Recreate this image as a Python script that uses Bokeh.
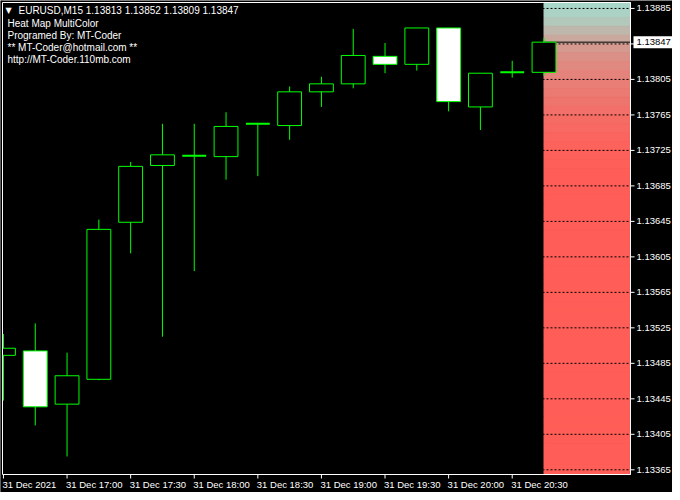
import math
from bokeh.plotting import figure
from bokeh.models import Range1d, Label, ColumnDataSource
from bokeh.core.properties import value
from bokeh.embed import file_html
from bokeh.resources import INLINE

# ---------------- data ----------------
header = "EURUSD,M15  1.13813 1.13852 1.13809 1.13847"
info_lines = ["Heat Map MultiColor", "Programed By: MT-Coder",
              "** MT-Coder@hotmail.com **", "http://MT-Coder.110mb.com"]

opens  = [1.13494, 1.13499, 1.13439, 1.13467, 1.13644, 1.13708, 1.13719, 1.13718, 1.13755,
          1.13753, 1.13791, 1.13800, 1.13831, 1.13822, 1.13863, 1.13774, 1.13813, 1.13813]
highs  = [1.13518, 1.13530, 1.13497, 1.13647, 1.13712, 1.13755, 1.13755, 1.13768, 1.13756,
          1.13797, 1.13808, 1.13862, 1.13846, 1.13863, 1.13863, 1.13812, 1.13826, 1.13852]
lows   = [1.13443, 1.13415, 1.13380, 1.13466, 1.13609, 1.13515, 1.13589, 1.13692, 1.13696,
          1.13737, 1.13774, 1.13795, 1.13812, 1.13815, 1.13769, 1.13748, 1.13807, 1.13809]
closes = [1.13502, 1.13436, 1.13471, 1.13636, 1.13707, 1.13720, 1.13719, 1.13752, 1.13755,
          1.13791, 1.13800, 1.13832, 1.13822, 1.13863, 1.13780, 1.13812, 1.13813, 1.13847]

time_tick_idx = [0, 2, 4, 6, 8, 10, 12, 14, 16]
time_tick_labels = ["31 Dec 2021", "31 Dec 17:00", "31 Dec 17:30", "31 Dec 18:00",
                    "31 Dec 18:30", "31 Dec 19:00", "31 Dec 19:30", "31 Dec 20:00",
                    "31 Dec 20:30"]

price_ticks = [1.13365, 1.13405, 1.13445, 1.13485, 1.13525, 1.13565, 1.13605, 1.13645,
               1.13685, 1.13725, 1.13765, 1.13805, 1.13845, 1.13885]
current_price = 1.13847

# heat map bands (0.0001 each), intensity from the top band downwards (0 = cool, 1 = hot)
band_top = 1.13895
band_step = 0.0001
band_count = 54
heat_top = [0.0, 0.03, 0.12, 0.25, 0.38, 0.50, 0.58, 0.64, 0.69, 0.73, 0.77, 0.81,
            0.85, 0.88, 0.91, 0.94, 0.96, 0.98, 0.99]
heat = heat_top + [1.0] * (band_count - len(heat_top))
cool_rgb = (168, 214, 200)
hot_rgb = (255, 94, 88)

# visible chart window (data units)
x_lo, x_hi = -0.03, 19.72
y_lo, y_hi = 1.133597, 1.138917

# ---------------- layout (pixels) ----------------
W, H = 672, 492
CL, CT, CR, CB = 2, 2, 630, 474        # chart area inside the canvas
px_x = (CR - CL) / (x_hi - x_lo)
px_y = (CB - CT) / (y_hi - y_lo)
xr = Range1d(x_lo - CL / px_x, x_hi + (W - CR) / px_x)
yr = Range1d(y_lo - (H - CB) / px_y, y_hi + CT / px_y)

p = figure(width=W, height=H, output_backend="svg", toolbar_location=None,
           x_range=xr, y_range=yr, x_axis_location=None, y_axis_location=None,
           min_border=0, background_fill_color="black", border_fill_color="black",
           outline_line_color=None)
p.xgrid.visible = False
p.ygrid.visible = False

n = len(opens)
idx = list(range(n))
heat_left = idx[-1]

def mix(t):
    return "#%02x%02x%02x" % tuple(round(a + (b - a) * t) for a, b in zip(cool_rgb, hot_rgb))

tops = [band_top - k * band_step for k in range(band_count)]
bots = [t - band_step for t in tops]
tops[0] = min(tops[0], y_hi)
bots[-1] = max(bots[-1], y_lo)
cols = [mix(t) for t in heat]
p.quad(left=heat_left, right=x_hi, top=tops, bottom=bots,
       fill_color=cols, line_color=cols, line_width=1)

# dashed price grid
p.segment(x0=x_lo, x1=x_hi, y0=price_ticks, y1=price_ticks,
          line_color="black", line_width=1, line_dash="2 2")
# current price line
p.segment(x0=[heat_left], x1=[x_hi], y0=[current_price], y1=[current_price],
          line_color="black", line_width=1)

# candles
src = ColumnDataSource(dict(
    x=idx, o=opens, h=highs, l=lows, c=closes,
    top=[max(a, b) for a, b in zip(opens, closes)],
    bot=[min(a, b) for a, b in zip(opens, closes)],
    fill=["white" if c < o else "black" for o, c in zip(opens, closes)],
    lw=[2 if c == o else 1 for o, c in zip(opens, closes)],
))
GREEN = "#00ff00"
p.segment(x0="x", x1="x", y0="l", y1="h", source=src, line_color=GREEN, line_width=1)
p.vbar(x="x", width=0.75, top="top", bottom="bot", source=src,
       fill_color="fill", line_color=GREEN, line_width="lw")

# mask the 2px strip left of the chart, then frame lines
p.quad(left=[xr.start], right=[x_lo], bottom=[yr.start], top=[yr.end],
       fill_color="black", line_color=None)
p.segment(x0=[x_lo, x_lo, x_hi, x_lo], x1=[x_hi, x_lo, x_hi, x_hi],
          y0=[y_hi, y_lo, y_lo, y_lo], y1=[y_hi, y_hi, y_hi, y_lo],
          line_color="white", line_width=1)

FONT = "Liberation Sans"
# price axis (right)
p.ray(x=x_hi, y=price_ticks, length=4, length_units="screen", angle=0,
      line_color="white", line_width=1)
p.text(x=x_hi, y=price_ticks, text=["%.5f" % t for t in price_ticks], x_offset=6,
       text_align="left", text_baseline="middle", text_color="white",
       text_font=value(FONT), text_font_size="9.5px")
# time axis (bottom)
p.ray(x=time_tick_idx, y=y_lo, length=4, length_units="screen", angle=-math.pi / 2,
      line_color="white", line_width=1)
p.text(x=time_tick_idx, y=y_lo, text=time_tick_labels, x_offset=-1, y_offset=10,
       text_align="left", text_baseline="middle", text_color="white",
       text_font=value(FONT), text_font_size="9.5px")

# current price tag
p.add_layout(Label(x=x_hi, y=current_price, x_offset=3, text="%.5f" % current_price,
                   text_align="left", text_baseline="middle", text_color="black",
                   text_font=FONT, text_font_size="9.5px",
                   background_fill_color="white", padding=3))

# header text (top-left)
p.add_layout(Label(x=5, y=H - 10, x_units="screen", y_units="screen", text="\u25bc",
                   text_baseline="middle", text_color="white", text_font="DejaVu Sans",
                   text_font_size="8px"))
p.add_layout(Label(x=18, y=H - 10, x_units="screen", y_units="screen", text=header,
                   text_baseline="middle", text_color="white", text_font=FONT,
                   text_font_size="10px"))
for k, line in enumerate(info_lines):
    p.add_layout(Label(x=7, y=H - 23 - 12 * k, x_units="screen", y_units="screen",
                       text=line, text_baseline="middle", text_color="white",
                       text_font=FONT, text_font_size="10px"))

open("out.html", "w").write(file_html(p, INLINE))
